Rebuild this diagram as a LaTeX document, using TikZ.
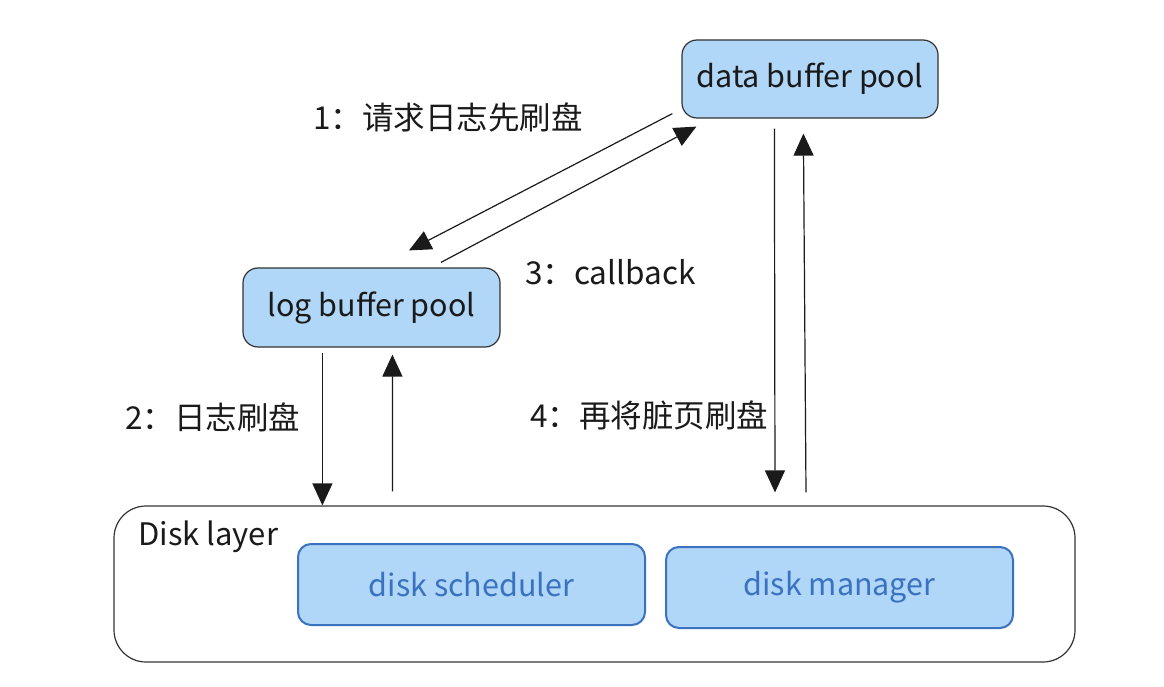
\documentclass[tikz,border=0pt]{standalone}
\usepackage{fontspec}
\setmainfont{Noto Sans CJK SC}
\usetikzlibrary{arrows.meta,calc}
\definecolor{boxfill}{HTML}{B0D6F8}
\definecolor{boxline}{HTML}{333333}
\definecolor{diskblue}{HTML}{3A72C0}
\definecolor{txt}{HTML}{1A1A1A}
\tikzset{
  pool/.style={draw=boxline,fill=boxfill,rounded corners=15pt,line width=1.2pt,inner sep=0pt,font=\fontsize{30.5}{36}\selectfont,text=txt},
  layer/.style={draw=boxline,fill=white,rounded corners=32pt,line width=1.2pt,inner sep=0pt},
  diskbox/.style={draw=diskblue,fill=boxfill,rounded corners=13pt,line width=2pt,inner sep=0pt,font=\fontsize{30.5}{36}\selectfont,text=diskblue,minimum width=347pt,minimum height=81pt},
  lbl/.style={font=\fontsize{31.5}{38}\selectfont,text=txt,inner sep=0pt},
  arr/.style={draw=txt,line width=1.2pt,-{Triangle[length=22pt,width=20pt]}}
}
\begin{document}
\begin{tikzpicture}[x=1pt,y=-1pt]
\useasboundingbox (0,0) rectangle (1164,687);
\node[pool,minimum width=256pt,minimum height=78pt] (data) at (810,79) {data buffer pool};
\node[pool,minimum width=257pt,minimum height=79pt] (log) at (371.5,307.5) {log buffer pool};
\node[layer,minimum width=961pt,minimum height=156pt] (disk) at (594.5,584) {};
\node[lbl,anchor=west,font=\fontsize{31}{37}\selectfont] (dl) at (138,537) {Disk layer};
\node[diskbox] (sched) at (471.5,584.5) {disk scheduler};
\node[diskbox] (mgr) at (839.5,587.5) {disk manager};
% labels
\node[lbl,anchor=west] (l1) at (313,117) {1：请求日志先刷盘};
\node[lbl,anchor=west] (l3) at (525,272) {3：callback};
\node[lbl,anchor=west] (l2) at (125,417) {2：日志刷盘};
\node[lbl,anchor=west] (l4) at (530,415) {4：再将脏页刷盘};
% diagonal arrows
\draw[arr] ($(data.south west)+(-9,-5)$) -- ($(log.north)+(37.5,-17)$);
\draw[arr] ($(log.north)+(69.5,-5)$) -- ($(data.south west)+(15,8)$);
% log <-> disk
\coordinate (a2s) at ($(log.south west)+(80,5)$);
\coordinate (a2e) at (a2s |- disk.north);
\coordinate (b2s) at ($(disk.north)+(-202,-14)$);
\coordinate (b2e) at ($(log.south west)+(150,7)$);
\draw[arr] (a2s) -- (a2e);
\draw[arr] (b2s) -- (b2e);
% data <-> disk
\coordinate (a4s) at ($(data.south west)+(93,10)$);
\coordinate (a4e) at ($(disk.north)+(180.5,-13)$);
\coordinate (b4s) at ($(disk.north)+(211.5,-13)$);
\coordinate (b4e) at ($(data.south west)+(122,15)$);
\draw[arr] (a4s) -- (a4e);
\draw[arr] (b4s) -- (b4e);
\end{tikzpicture}
\end{document}
